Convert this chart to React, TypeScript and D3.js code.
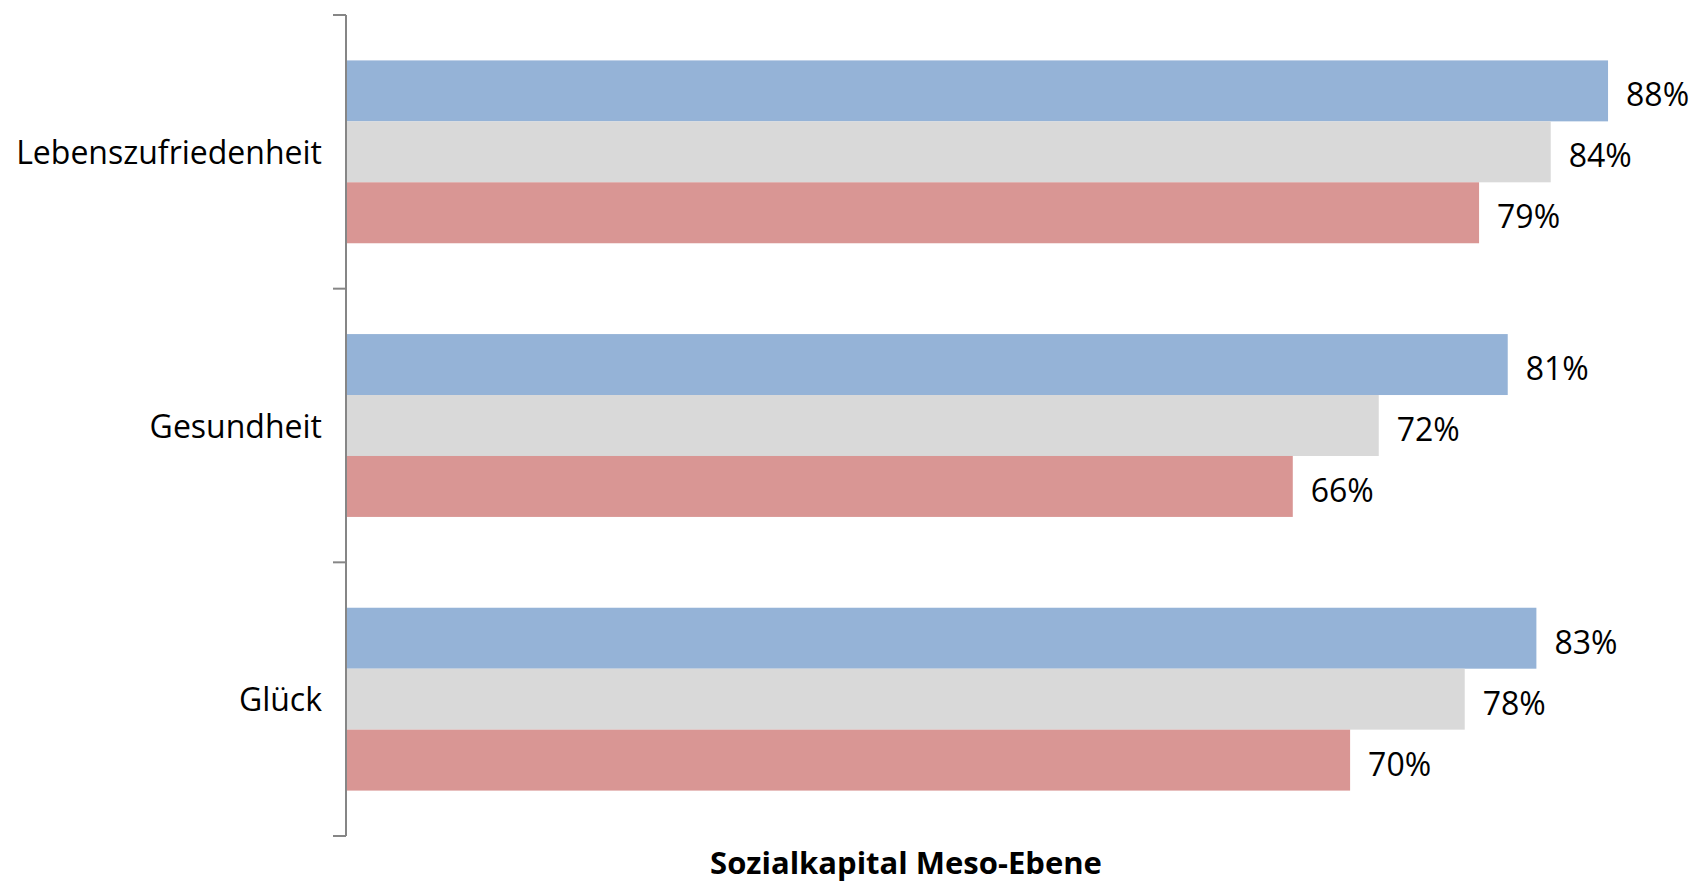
import * as d3 from 'd3'
import {useRef, useEffect} from 'react'

const categories: string[] = ['Lebenszufriedenheit', 'Gesundheit', 'Glück']
const seriesNames: string[] = ['s1', 's2', 's3']
const series1: number[] = [0.88, 0.81, 0.83]
const series2: number[] = [0.84, 0.72, 0.78]
const series3: number[] = [0.79, 0.66, 0.70]
const colors: string[] = ['#95b3d7', '#d9d9d9', '#d99694']
const axisTitle = 'Sozialkapital Meso-Ebene'

const FONT = '"Open Sans", "Liberation Sans", sans-serif'

const App = () => {
  const svgRef = useRef(null)
  const svgWidth = 1695
  const svgHeight = 884

  useEffect(() => {
    const SVG = d3.select(svgRef.current)
    SVG.selectAll('*').remove()

    const values = [series1, series2, series3]
    const x0 = 347
    const xScale = d3.scaleLinear().domain([0, 1]).range([x0, x0 + 1433])
    const yScale = d3.scaleBand<string>()
      .domain(categories)
      .range([15, 836])
    const inner = d3.scaleBand<string>()
      .domain(seriesNames)
      .range([0, yScale.bandwidth()])
      .paddingInner(0)
      .paddingOuter(0.745)

    categories.forEach((cat, ci) => {
      seriesNames.forEach((s, si) => {
        const v = values[si][ci]
        const y = yScale(cat)! + inner(s)!
        SVG.append('rect')
          .attr('x', x0)
          .attr('y', y)
          .attr('width', xScale(v) - x0)
          .attr('height', inner.bandwidth())
          .attr('fill', colors[si])
        SVG.append('text')
          .attr('x', xScale(v) + 18)
          .attr('y', y + inner.bandwidth() / 2 + 3)
          .attr('dominant-baseline', 'central')
          .attr('font-family', FONT)
          .attr('font-size', 32)
          .attr('fill', '#000')
          .text(d3.format('.0%')(v))
      })
    })

    const yAxis = d3.axisLeft(yScale).tickSize(0).tickPadding(24)
    const g = SVG.append('g')
      .attr('transform', `translate(${x0 - 1},2)`)
      .call(yAxis)
    g.select('.domain').remove()
    g.selectAll('text')
      .attr('font-family', FONT)
      .attr('font-size', 32)
      .attr('fill', '#000')

    // axis line with ticks at band boundaries
    const boundaries = [...categories.map(c => yScale(c)!), 836]
    SVG.append('line')
      .attr('x1', x0 - 1).attr('x2', x0 - 1)
      .attr('y1', 15).attr('y2', 836)
      .attr('stroke', '#868686').attr('stroke-width', 2)
    boundaries.forEach(b => {
      SVG.append('line')
        .attr('x1', x0 - 14).attr('x2', x0 - 1)
        .attr('y1', b).attr('y2', b)
        .attr('stroke', '#868686').attr('stroke-width', 2)
    })

    SVG.append('text')
      .attr('x', 906)
      .attr('y', 874)
      .attr('text-anchor', 'middle')
      .attr('font-family', FONT)
      .attr('font-weight', 'bold')
      .attr('font-size', 31)
      .text(axisTitle)
  }, [])

  return (
    <svg ref={svgRef} width={svgWidth} height={svgHeight}
      style={{position: 'absolute', left: 0, top: 0, background: '#fff'}}></svg>
  )
}

export default App
